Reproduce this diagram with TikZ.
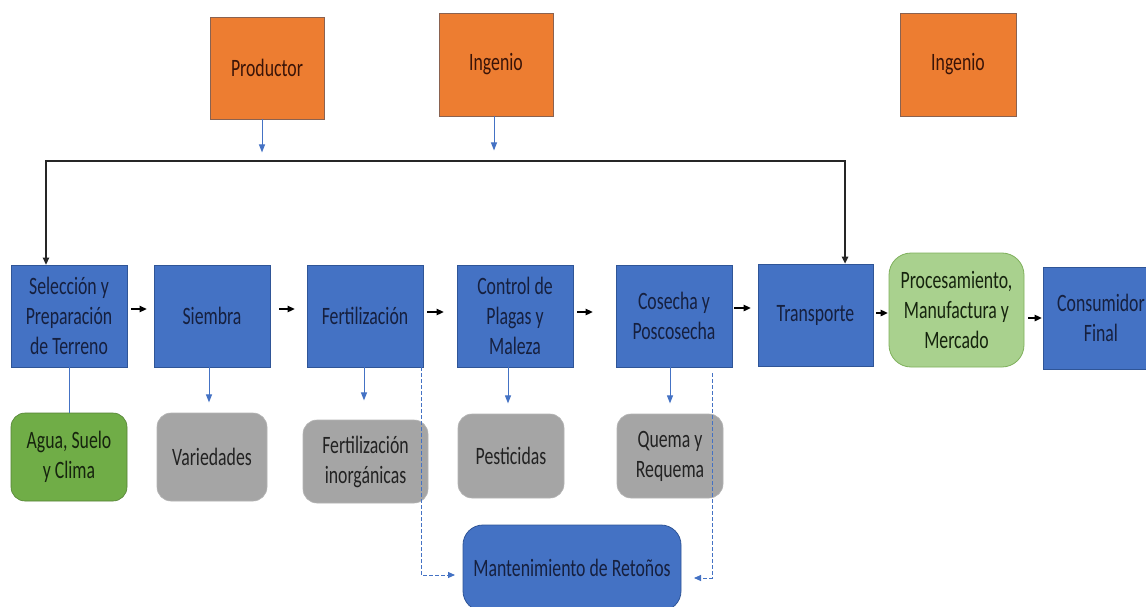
\documentclass[tikz,border=0pt]{standalone}
\usepackage{fontspec}
\setmainfont[FakeStretch=0.71]{Carlito}
\usetikzlibrary{arrows.meta,calc}
\definecolor{cblue}{HTML}{4472C4}
\definecolor{cblueline}{HTML}{2F5597}
\definecolor{corange}{HTML}{ED7D31}
\definecolor{corangeline}{HTML}{8A6250}
\definecolor{cgray}{HTML}{A5A5A5}
\definecolor{cgrayline}{HTML}{B4B4B4}
\definecolor{cgreen}{HTML}{70AD47}
\definecolor{cgreenline}{HTML}{548235}
\definecolor{clgreen}{HTML}{A9D18E}
\definecolor{clgreenline}{HTML}{7FB05C}
\definecolor{tblue}{HTML}{16203F}
\definecolor{torange}{HTML}{3A1408}
\definecolor{tgray}{HTML}{222222}
\definecolor{tgreen}{HTML}{16240E}
\tikzset{
  box/.style={rectangle, align=center, inner sep=0pt,
    font=\fontsize{25}{30}\selectfont},
  bluebox/.style={box, fill=cblue, draw=cblueline, line width=0.8pt, text=tblue},
  orangebox/.style={box, fill=corange, draw=corangeline, line width=0.9pt, text=torange},
  graybox/.style={box, fill=cgray, draw=cgrayline, line width=0.6pt, rounded corners=14pt, text=tgray},
  greenbox/.style={box, fill=cgreen, draw=cgreenline, line width=0.6pt, rounded corners=14pt, text=tgreen},
  lgreenbox/.style={box, fill=clgreen, draw=clgreenline, line width=0.8pt, rounded corners=22pt, text=tgreen},
  roundblue/.style={box, fill=cblue, draw=cblueline, line width=0.8pt, rounded corners=20pt, text=tblue},
  sz/.style n args={2}{minimum width=#1pt, minimum height=#2pt},
  blackarr/.style={draw=black, line width=1.3pt, -{Triangle[length=7pt,width=6.5pt]}},
  blackline/.style={draw=black!85, line width=1.3pt},
  bluearr/.style={draw=cblue, line width=1pt, -{Triangle[length=8pt,width=6pt]}},
  blueline/.style={draw=cblue, line width=1pt},
  dasharr/.style={draw=cblue, line width=0.9pt, dash pattern=on 3.5pt off 2.5pt,
    -{Triangle[length=7pt,width=6pt]}},
}
\begin{document}
\begin{tikzpicture}[x=1pt, y=-1pt]
  \useasboundingbox (0,0) rectangle (1146,607);
  \clip (0,0) rectangle (1146,607);
  \fill[white] (0,0) rectangle (1146,607);

  % actors
  \node[orangebox, sz={114}{102}] (prod) at (267,68) {Productor};
  \node[orangebox, sz={114}{103}] (ing1) at (496,64.5) {Ingenio};
  \node[orangebox, sz={116}{103}] (ing2) at (958,64.5) {Ingenio};

  % main chain
  \node[bluebox, sz={116}{102}] (sel) at (69,316) {Selección y\\Preparación\\de Terreno};
  \node[bluebox, sz={116}{102}] (siem) at (212,316) {Siembra};
  \node[bluebox, sz={116}{102}] (fert) at (365,316) {Fertilización};
  \node[bluebox, sz={116}{102}] (ctrl) at (515,316) {Control de\\Plagas y\\Maleza};
  \node[bluebox, sz={116}{102}] (cos) at (674,316) {Cosecha y\\Poscosecha};
  \node[bluebox, sz={115}{102}] (transp) at (815.5,315) {Transporte};
  \node[lgreenbox, sz={135}{114}] (proc) at (956.5,310) {Procesamiento,\\Manufactura y\\Mercado};
  \node[bluebox, sz={116}{102}] (cons) at (1101,318) {Consumidor\\Final};

  % inputs
  \node[greenbox, sz={116}{88}] (agua) at (69,457) {Agua, Suelo\\y Clima};
  \node[graybox, sz={110}{88}] (var) at (212,457) {Variedades};
  \node[graybox, sz={125}{83}] (fertin) at (365.5,461.5) {Fertilización\\inorgánicas};
  \node[graybox, sz={106}{84}] (pest) at (511,456) {Pesticidas};
  \node[graybox, sz={106}{84}] (quema) at (670,456) {Quema y\\Requema};
  \node[roundblue, sz={218}{86}] (mant) at (572,568) {Mantenimiento de Retoños};

  % actor arrows
  \draw[bluearr] ($(prod.south)+(-5,0)$) -- ++(0,33);
  \draw[bluearr] ($(ing1.south)+(-2,0)$) -- ++(0,34);

  % supply bus
  \coordinate (busL) at (46,161);
  \coordinate (busR) at (845,161);
  \draw[blackline, {Triangle[length=7pt,width=6.5pt]}-{Triangle[length=7pt,width=6.5pt]}]
    (sel.north -| busL) -- (busL) -- (busR) -- (transp.north -| busR);

  % chain arrows
  \draw[blackarr] ($(sel.east)+(4,-7)$) -- ($(siem.west)+(-7,-7)$);
  \draw[blackarr] ($(siem.east)+(9,-7)$) -- ($(fert.west)+(-12,-7)$);
  \draw[blackarr] ($(fert.east)+(4,-4)$) -- ($(ctrl.west)+(-13,-4)$);
  \draw[blackarr] ($(ctrl.east)+(4,-4)$) -- ($(cos.west)+(-23,-4)$);
  \draw[blackarr] ($(cos.east)+(2,-8)$) -- ($(transp.west)+(-7,-7)$);
  \draw[blackarr] ($(transp.east)+(3,-2)$) -- ($(proc.west)+(-1,3)$);
  \draw[blackarr] ($(proc.east)+(4,8)$) -- ($(cons.west)+(-1,0)$);

  % inputs links
  \draw[blueline] (sel) -- (agua);
  \draw[bluearr] ($(siem.south)+(-3,0)$) -- ++(0,35);
  \draw[bluearr] ($(fert.south)+(-1,0)$) -- ++(0,33);
  \draw[bluearr] ($(ctrl.south)+(-7,0)$) -- ++(0,36);
  \draw[bluearr] ($(cos.south)+(-4,0)$) -- ++(0,36);

  % dashed links to maintenance
  \coordinate (mL) at (455,575);
  \coordinate (mR) at (694,578);
  \draw[dasharr] ($(fert.south)+(56,0)$) |- (mL);
  \draw[dasharr] ($(cos.south)+(38,6)$) |- (mR);
\end{tikzpicture}
\end{document}
